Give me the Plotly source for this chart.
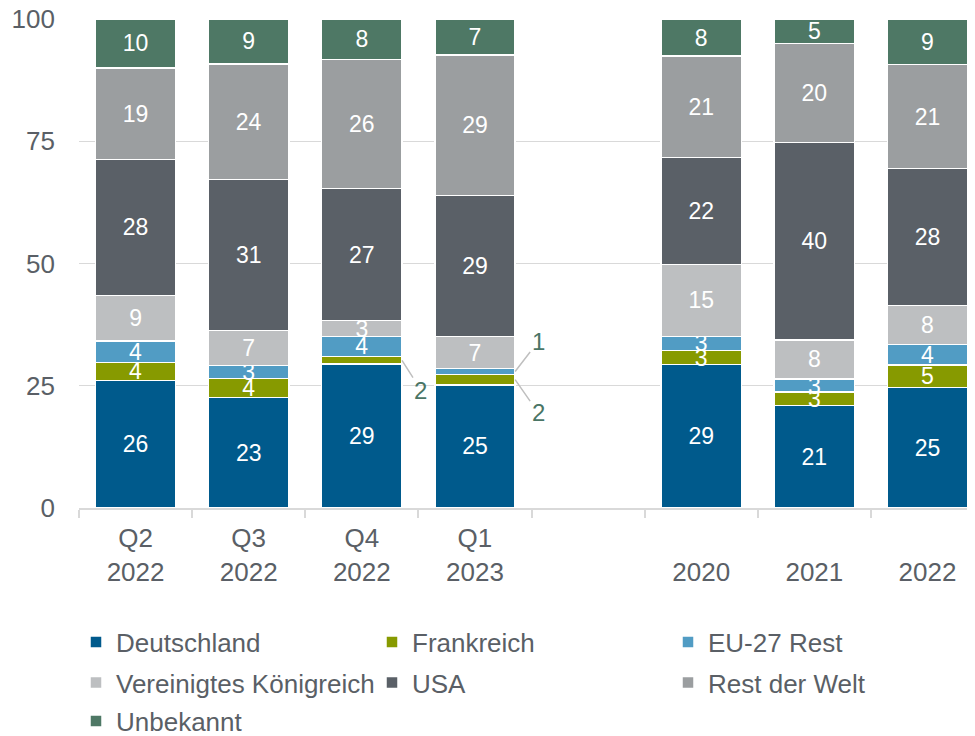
import plotly.graph_objects as go

# categories (the blank one is the gap between quarters and years)
categories = ["Q2 2022", "Q3 2022", "Q4 2022", "Q1 2023", " ", "2020", "2021", "2022"]
tick_labels = ["Q2<br>2022", "Q3<br>2022", "Q4<br>2022", "Q1<br>2023", "",
               " <br>2020", " <br>2021", " <br>2022"]

# shares in percent
deutschland = [26.1, 22.6, 29.4, 25.2, None, 29.3, 21.0, 24.6]
frankreich = [3.7, 3.9, 1.6, 2.1, None, 2.9, 2.7, 4.6]
eu_rest = [4.4, 2.6, 4.1, 1.2, None, 2.9, 2.7, 4.2]
vereinigtes_koenigreich = [9.3, 7.2, 3.2, 6.6, None, 14.7, 8.0, 8.0]
usa = [27.8, 30.9, 27.0, 28.8, None, 21.9, 40.3, 28.0]
rest_der_welt = [18.7, 23.6, 26.4, 28.7, None, 20.7, 20.3, 21.3]
unbekannt = [10.0, 9.2, 8.3, 7.4, None, 7.6, 5.0, 9.3]

series_names = ["Deutschland", "Frankreich", "EU-27 Rest", "Vereinigtes Königreich",
                "USA", "Rest der Welt", "Unbekannt"]
series_values = [deutschland, frankreich, eu_rest, vereinigtes_koenigreich,
                 usa, rest_der_welt, unbekannt]
colors = ["#005a8c", "#879a00", "#519cc4", "#bdbfc1", "#5a6067", "#9b9ea0", "#4e7865"]
legend_rows = ["legend", "legend", "legend", "legend2", "legend2", "legend2", "legend3"]

# small segments labelled outside the bar: (category, series, pixel offset of label)
callouts = [("Q4 2022", "Frankreich", 19, 30),
            ("Q1 2023", "EU-27 Rest", 23, -30),
            ("Q1 2023", "Frankreich", 23, 33)]

FONT = "Arial, 'Liberation Sans', sans-serif"
TEXT_GREY = "#5a5f66"
GRID = "#d9d9d9"
# the page body keeps its 8px default margin, so the figure is 8px smaller
W, H = 967, 728

hidden = {(c, s) for c, s, _, _ in callouts}

fig = go.Figure()
for name, vals, col, leg in zip(series_names, series_values, colors, legend_rows):
    text = []
    for cat, v in zip(categories, vals):
        if v is None or (cat, name) in hidden:
            text.append("")
        else:
            text.append(f"{v:.0f}")
    fig.add_trace(go.Bar(
        x=categories, y=vals, name=name, marker_color=col,
        marker_line=dict(color="white", width=1.5),
        text=text, textposition="inside", insidetextanchor="middle",
        textangle=0, constraintext="none",
        textfont=dict(color="white", size=23, family=FONT),
        legend=leg, hoverinfo="skip"))

# callout labels with leader lines
for cat, sname, ax, ay in callouts:
    i = categories.index(cat)
    k = series_names.index(sname)
    base = sum(series_values[j][i] for j in range(k))
    mid = base + series_values[k][i] / 2
    fig.add_annotation(
        x=i + 0.355, y=mid, xref="x", yref="y",
        text=f"{series_values[k][i]:.0f}", showarrow=True, arrowhead=0,
        arrowwidth=1.5, arrowcolor="#bfbfbf", ax=ax, ay=ay, standoff=0,
        font=dict(size=24, color="#4a7565", family=FONT))

legend_common = dict(orientation="h", xref="container", yref="container",
                     xanchor="left", yanchor="middle", entrywidth=251,
                     entrywidthmode="pixels", bgcolor="rgba(0,0,0,0)",
                     font=dict(size=26, color=TEXT_GREY, family=FONT),
                     traceorder="normal")
x_leg = 68 / W

fig.update_layout(
    width=W, height=H,
    margin=dict(l=71, r=0, t=11, b=228, autoexpand=False),
    barmode="stack", bargap=0.29,
    plot_bgcolor="white", paper_bgcolor="white",
    font=dict(family=FONT, color=TEXT_GREY, size=26),
    legend=dict(legend_common, x=x_leg, y=1 - 634 / H),
    legend2=dict(legend_common, x=x_leg, y=1 - 674.5 / H),
    legend3=dict(legend_common, x=x_leg, y=1 - 713 / H),
    xaxis=dict(type="category", categoryorder="array", categoryarray=categories,
               tickmode="array", tickvals=categories, ticktext=tick_labels,
               range=[-0.5, 7.42], showline=True, linecolor=GRID, linewidth=1.5,
               ticks="outside", tickson="boundaries", ticklen=8, tickcolor=GRID,
               tickwidth=1.5, showgrid=False, ticklabelstandoff=6,
               tickfont=dict(size=26, color=TEXT_GREY, family=FONT)),
    yaxis=dict(range=[0, 100], tickvals=[0, 25, 50, 75, 100], showgrid=True,
               gridcolor=GRID, gridwidth=1.2, zeroline=False, showline=False,
               ticks="", ticklabelstandoff=23, ticklabeloverflow="allow",
               tickfont=dict(size=26, color=TEXT_GREY, family=FONT)),
)

fig.write_html("out.html")
